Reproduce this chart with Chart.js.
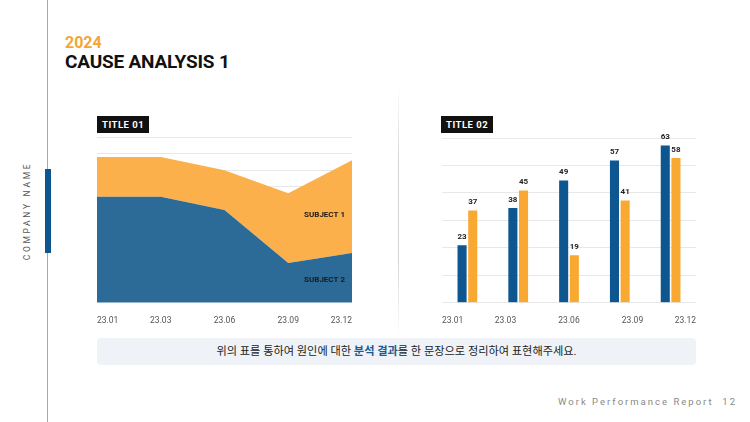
<!DOCTYPE html>
<html>
<head>
<meta charset="utf-8">
<script src="https://cdn.jsdelivr.net/npm/chart.js@4"></script>
<style>
  body { margin: 0; width: 750px; height: 422px; background: #fff; position: relative; overflow: hidden;
         font-family: Roboto, "Noto Sans CJK KR", sans-serif; }
  .abs { position: absolute; }
  #vline { left: 47px; top: 0; width: 1px; height: 422px; background: #a8a8a8; }
  #vbar { left: 45px; top: 169px; width: 6px; height: 84px; background: #0d5690; }
  #company { left: 27px; top: 211px; transform: translate(-50%, -50%) rotate(-90deg); font-size: 8.5px;
             letter-spacing: 2.7px; color: #555; white-space: nowrap; }
  #year { left: 65px; top: 33px; font-size: 16px; font-weight: 700; color: #f5a534; }
  #title { left: 65px; top: 50px; font-size: 19px; font-weight: 700; color: #111; letter-spacing: -0.2px; }
  .badge { top: 116px; height: 17px; line-height: 17px; padding: 0 5px; background: #111; color: #fff;
           font-size: 9.5px; font-weight: 700; letter-spacing: 0.5px; }
  #divider { left: 398px; top: 85px; width: 1px; height: 252px;
             background: linear-gradient(#fff, #d6d6d6 30%, #d6d6d6 70%, #fff); }
  #note { left: 97px; top: 338px; width: 599px; height: 27px; line-height: 27px; background: #eff3f8;
          border-radius: 4px; text-align: center; font-size: 11.2px; color: #222; }
  #note b { color: #1a5a96; }
  #footer { right: 13px; top: 396px; font-size: 9.5px; letter-spacing: 2px; color: #888; }
  .chartbox { top: 134px; height: 197px; }
</style>
</head>
<body>
<div class="abs" id="vline"></div>
<div class="abs" id="vbar"></div>
<div class="abs" id="company">COMPANY NAME</div>
<div class="abs" id="year">2024</div>
<div class="abs" id="title">CAUSE ANALYSIS 1</div>
<div class="abs badge" style="left:97px">TITLE 01</div>
<div class="abs badge" style="left:441px">TITLE 02</div>
<div class="abs" id="divider"></div>
<div class="abs chartbox" style="left:91px; width:267px"><canvas id="areaChart"></canvas></div>
<div class="abs chartbox" style="left:436px; width:266px"><canvas id="barChart"></canvas></div>
<div class="abs" id="note">위의 표를 통하여 원인에 대한 <b>분석 결과</b>를 한 문장으로 정리하여 표현해주세요.</div>
<div class="abs" id="footer">Work Performance Report &nbsp;12</div>

<script>
var months = ["23.01", "23.03", "23.06", "23.09", "23.12"]
// left: stacked areas
var subject2 = [64, 64, 56, 24, 30]
var subject1 = [24, 24, 24, 42, 56]
// right: grouped bars
var barsBlue = [23, 38, 49, 57, 63]
var barsOrange = [37, 45, 19, 41, 58]

Chart.defaults.font.family = "Roboto, 'Noto Sans CJK KR', sans-serif"
Chart.defaults.animation = false

var tickFont = { size: 8.5 }

// labels written inside the area chart
var areaLabels = {
  id: "areaLabels",
  afterDatasetsDraw(chart) {
    var ctx = chart.ctx
    var y = chart.scales.y
    ctx.save()
    ctx.font = "bold 8px Roboto"
    ctx.fillStyle = "#1a1a1a"
    ctx.textAlign = "right"
    ctx.textBaseline = "middle"
    ctx.fillText("SUBJECT 1", chart.chartArea.right - 7, y.getPixelForValue(53))
    ctx.fillText("SUBJECT 2", chart.chartArea.right - 7, y.getPixelForValue(14))
    ctx.restore()
  }
}

// value labels above bars
var barValues = {
  id: "barValues",
  afterDatasetsDraw(chart) {
    var ctx = chart.ctx
    ctx.save()
    ctx.font = "bold 8px Roboto"
    ctx.fillStyle = "#222"
    ctx.textAlign = "center"
    ctx.textBaseline = "bottom"
    chart.data.datasets.forEach(function (ds, i) {
      chart.getDatasetMeta(i).data.forEach(function (bar, j) {
        ctx.fillText(ds.data[j], bar.x, bar.y - 4)
      })
    })
    ctx.restore()
  }
}

new Chart(document.getElementById("areaChart"), {
  type: "line",
  data: {
    labels: months,
    datasets: [
      { label: "SUBJECT 2", data: subject2, fill: "origin", backgroundColor: "#2c6b98",
        borderWidth: 0, pointRadius: 0, tension: 0 },
      { label: "SUBJECT 1", data: subject1, fill: "-1", backgroundColor: "#fbb04c",
        borderWidth: 0, pointRadius: 0, tension: 0 }
    ]
  },
  options: {
    responsive: true,
    maintainAspectRatio: false,
    layout: { padding: { left: 6, right: 6, top: 3 } },
    plugins: { legend: { display: false }, tooltip: { enabled: false } },
    scales: {
      x: {
        grid: { display: false },
        border: { display: false },
        ticks: { font: tickFont, color: "#555", padding: 5, align: "inner", maxRotation: 0 }
      },
      y: {
        stacked: true,
        min: 0, max: 100,
        ticks: { display: false, stepSize: 10 },
        grid: { color: "#e8e8e8", drawTicks: false },
        border: { display: false }
      }
    }
  },
  plugins: [areaLabels]
})

new Chart(document.getElementById("barChart"), {
  type: "bar",
  data: {
    labels: months,
    datasets: [
      { data: barsBlue, backgroundColor: "#0d5690", categoryPercentage: 0.42, barPercentage: 0.85 },
      { data: barsOrange, backgroundColor: "#f9a832", categoryPercentage: 0.42, barPercentage: 0.85 }
    ]
  },
  options: {
    responsive: true,
    maintainAspectRatio: false,
    layout: { padding: { left: 6, right: 6, top: 4 } },
    plugins: { legend: { display: false }, tooltip: { enabled: false } },
    scales: {
      x: { display: false },
      // label axis: spread across the full width like the source slide
      x2: {
        type: "category",
        labels: months,
        position: "bottom",
        offset: false,
        grid: { display: false },
        border: { display: false },
        ticks: { font: tickFont, color: "#555", padding: 5, align: "inner", maxRotation: 0 }
      },
      y: {
        min: 0, max: 66,
        ticks: { display: false, stepSize: 11 },
        grid: { color: "#e8e8e8", drawTicks: false },
        border: { display: false }
      }
    }
  },
  plugins: [barValues]
})
</script>
</body>
</html>
